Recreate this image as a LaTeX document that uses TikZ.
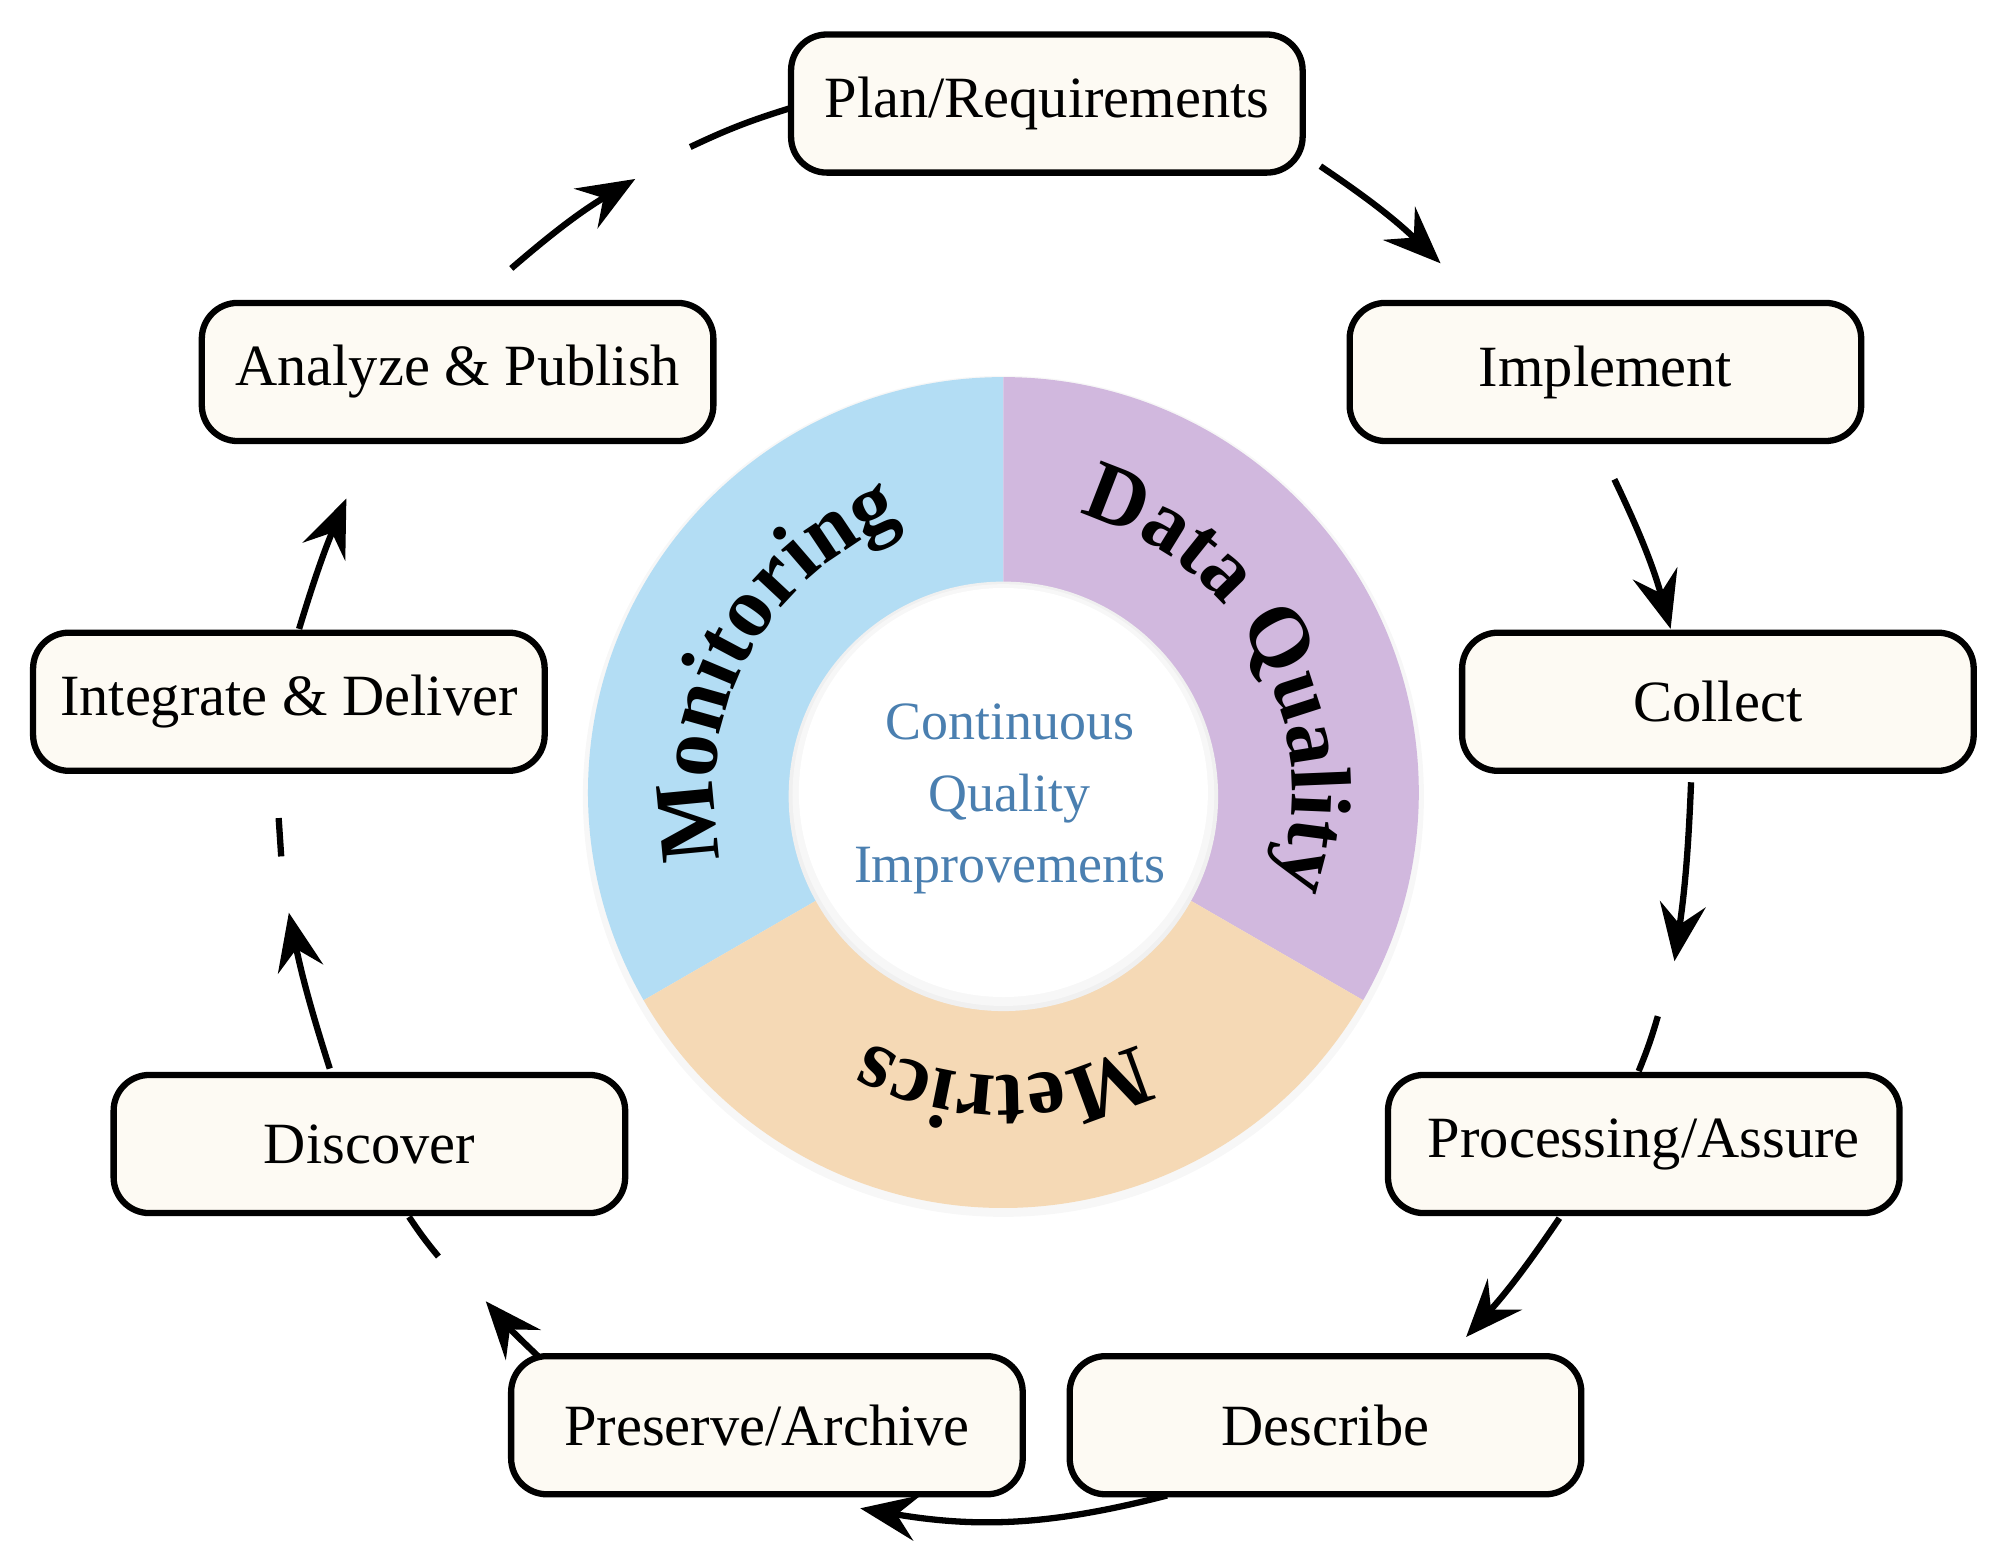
\documentclass[tikz,border=0pt]{standalone}
\usepackage{fontspec}
\setmainfont{Liberation Serif}
\usetikzlibrary{arrows.meta,decorations.text}
\definecolor{boxfill}{HTML}{FDFAF3}
\definecolor{ringblue}{HTML}{B3DDF4}
\definecolor{ringpurple}{HTML}{D1B8DE}
\definecolor{ringorange}{HTML}{F5D9B5}
\definecolor{centertext}{HTML}{4A7FB0}
\begin{document}
\begin{tikzpicture}[x=0.01cm,y=-0.01cm,
  box/.style={draw=black,line width=1.4pt,rounded corners=0.28cm,fill=boxfill,minimum width=4.0cm,minimum height=1.08cm,font=\fontsize{13}{15}\selectfont},
  arr/.style={line width=1.4pt,-{Stealth[length=0.45cm,width=0.36cm,inset=0.16cm]}},
  seg/.style={line width=1.4pt},
  ringtext/.style={decorate,decoration={text along path,text align=center,text={|\fontsize{19}{20}\selectfont\bfseries|#1}}}]
\useasboundingbox (0,0) rectangle (1560,1220);
% ring
\begin{scope}[shift={(785,620)},yscale=-1]
  \fill[gray!6] (0,-3) circle (329);
  \fill[ringblue] (0,0) -- (90:325) arc (90:210:325) -- cycle;
  \fill[ringpurple] (0,0) -- (90:325) arc (90:-30:325) -- cycle;
  \fill[ringorange] (0,0) -- (-30:325) arc (-30:-150:325) -- cycle;
  \fill[gray!12] (0,-3) circle (168);
  \fill[gray!6] (0,-2) circle (165);
  \fill[white] (0,0) circle (160);
  \path[ringtext={Monitoring}] (198:226) arc (198:106:226);
  \path[ringtext={Data Quality}] (78:226) arc (78:-22:226);
  \path[ringtext={Metrics}] (-55:222) arc (-55:-125:222);
  \node[align=center,text=centertext,font=\fontsize{12}{15.8}\selectfont] (ctr) at (5,-5) {Continuous\\Quality\\Improvements};
\end{scope}
% boxes
\node[box] (plan) at (819,81) {Plan/Requirements};
\node[box] (impl) at (1256,291) {Implement};
\node[box] (coll) at (1344,549) {Collect};
\node[box] (proc) at (1286,895) {Processing/Assure};
\node[box] (desc) at (1037,1115) {Describe};
\node[box] (pres) at (600,1115) {Preserve/Archive};
\node[box] (disc) at (289,895) {Discover};
\node[box] (integ) at (226,549) {Integrate \& Deliver};
\node[box] (anal) at (358,291) {Analyze \& Publish};
% connector coordinates
\coordinate (a1) at (1033,130); \coordinate (a2) at (1127,206);
\coordinate (b1) at (1263,375); \coordinate (b2) at (1307,492);
\coordinate (c1) at (1323,612); \coordinate (c2) at (1310,752);
\coordinate (c3) at (1297,795); \coordinate (c4) at (1282,838);
\coordinate (d1) at (1220,953); \coordinate (d2) at (1147,1046);
\coordinate (e1) at (913,1170); \coordinate (e2) at (673,1180);
\coordinate (f1) at (422,1062); \coordinate (f2) at (380,1018);
\coordinate (f3) at (343,983); \coordinate (f4) at (320,952);
\coordinate (g1) at (258,836); \coordinate (g2) at (226,714);
\coordinate (g3) at (220,670); \coordinate (g4) at (218,640);
\coordinate (h1) at (234,492); \coordinate (h2) at (271,390);
\coordinate (i1) at (400,210); \coordinate (i2) at (497,140);
\coordinate (i3) at (540,115); \coordinate (i4) at (617,85);
\draw[arr] (a1) to[bend left=5] (a2);
\draw[arr] (b1) to[bend left=5] (b2);
\draw[arr] (c1) to[bend left=3] (c2);
\draw[seg] (c3) to[bend left=3] (c4);
\draw[arr] (d1) to[bend left=4] (d2);
\draw[arr] (e1) to[bend left=12] (e2);
\draw[arr] (f1) to[bend left=3] (f2);
\draw[seg] (f3) to[bend left=3] (f4);
\draw[arr] (g1) to[bend left=3] (g2);
\draw[seg] (g3) to (g4);
\draw[arr] (h1) to[bend left=3] (h2);
\draw[arr] (i1) to[bend left=5] (i2);
\draw[seg] (i3) to[bend left=4] (i4);
\end{tikzpicture}
\end{document}
